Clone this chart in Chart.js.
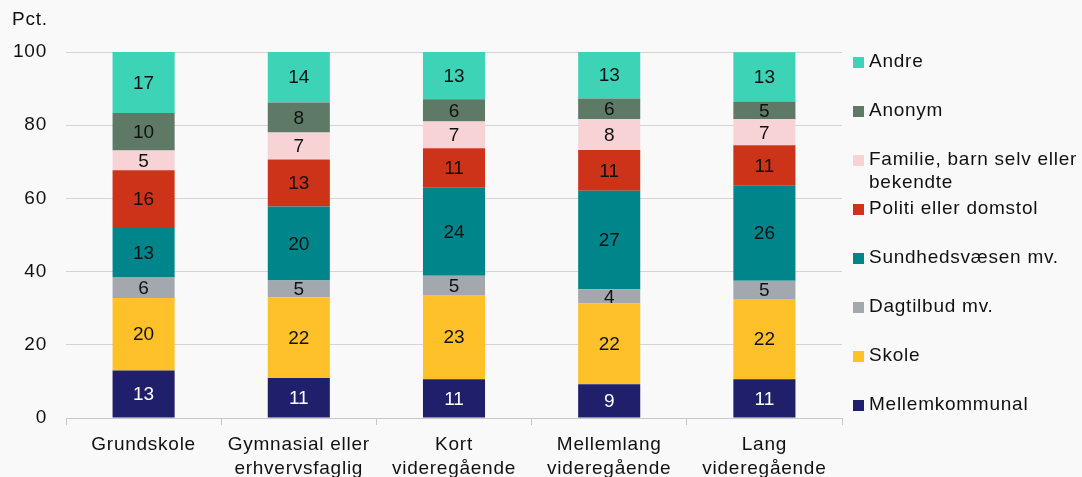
<!DOCTYPE html>
<html>
<head>
<meta charset="utf-8">
<script src="https://cdn.jsdelivr.net/npm/chart.js@4/dist/chart.umd.min.js"></script>
<style>
  html, body { margin: 0; padding: 0; background: #f9f9f9; overflow: hidden; }
  #wrap { width: 1082px; height: 490px; position: relative; }
</style>
</head>
<body>
<div id="wrap"><canvas id="barChart"></canvas></div>
<script>
var categories = [['Grundskole'], ['Gymnasial eller', 'erhvervsfaglig'], ['Kort', 'videregående'], ['Mellemlang', 'videregående'], ['Lang', 'videregående']];
var mellemkommunal = [13.0, 10.9, 10.6, 9.2, 10.6];
var skole = [19.8, 22.1, 23.0, 22.1, 21.9];
var dagtilbud = [5.7, 4.6, 5.3, 3.9, 5.0];
var sundhed = [13.4, 20.2, 24.0, 26.9, 26.1];
var politi = [15.8, 12.8, 10.8, 11.1, 10.9];
var familie = [5.4, 7.4, 7.3, 8.4, 7.1];
var anonym = [10.2, 8.2, 6.1, 5.7, 4.9];
var andre = [16.7, 13.8, 12.9, 12.7, 13.4];
var yTicks = [0, 20, 40, 60, 80, 100];

var FONT = '"Liberation Sans", Arial, sans-serif';
var SIZE = 19;
var SPACING = '0.75px';

var series = [
    { label: 'Mellemkommunal', data: mellemkommunal, color: '#1f1f6b', text: '#ffffff', legend: ['Mellemkommunal'] },
    { label: 'Skole', data: skole, color: '#ffc12a', text: '#111111', legend: ['Skole'] },
    { label: 'Dagtilbud mv.', data: dagtilbud, color: '#a2a8ae', text: '#111111', legend: ['Dagtilbud mv.'] },
    { label: 'Sundhedsvæsen mv.', data: sundhed, color: '#00868a', text: '#111111', legend: ['Sundhedsvæsen mv.'] },
    { label: 'Politi eller domstol', data: politi, color: '#cc3319', text: '#111111', legend: ['Politi eller domstol'] },
    { label: 'Familie, barn selv eller bekendte', data: familie, color: '#f8d3d5', text: '#111111', legend: ['Familie, barn selv eller', 'bekendte'] },
    { label: 'Anonym', data: anonym, color: '#5e7a66', text: '#111111', legend: ['Anonym'] },
    { label: 'Andre', data: andre, color: '#3dd3b7', text: '#111111', legend: ['Andre'] }
];

// slightly wider text like the original
var spacing = {
    id: 'spacing',
    beforeLayout: function(chart) { chart.ctx.letterSpacing = SPACING; },
    beforeDraw: function(chart) { chart.ctx.letterSpacing = SPACING; }
};

// value labels in the middle of each segment
var segmentLabels = {
    id: 'segmentLabels',
    afterDatasetsDraw: function(chart) {
        var ctx = chart.ctx;
        ctx.save();
        ctx.letterSpacing = '0px';
        ctx.font = SIZE + 'px ' + FONT;
        ctx.textAlign = 'center';
        ctx.textBaseline = 'middle';
        chart.data.datasets.forEach(function(ds, i) {
            var meta = chart.getDatasetMeta(i);
            meta.data.forEach(function(bar, j) {
                ctx.fillStyle = series[i].text;
                ctx.fillText(Math.round(ds.data[j]), bar.x, (bar.y + bar.base) / 2 + 1);
            });
        });
        ctx.restore();
    }
};

// legend on the right + "Pct." title
var sideLegend = {
    id: 'sideLegend',
    afterDraw: function(chart) {
        var ctx = chart.ctx;
        var area = chart.chartArea;
        ctx.save();
        ctx.letterSpacing = SPACING;
        ctx.font = SIZE + 'px ' + FONT;
        ctx.textBaseline = 'middle';
        ctx.fillStyle = '#111111';
        ctx.textAlign = 'left';
        ctx.fillText('Pct.', 12, 20);
        var first = area.top + 10, last = area.bottom - 13;
        var step = (last - first) / (series.length - 1);
        for (var k = 0; k < series.length; k++) {
            var s = series[series.length - 1 - k];
            var y = first + k * step;
            ctx.fillStyle = s.color;
            ctx.fillRect(area.right + 11, y - 5, 11, 11);
            ctx.fillStyle = '#111111';
            s.legend.forEach(function(line, n) {
                ctx.fillText(line, area.right + 27, y + n * 23);
            });
        }
        ctx.restore();
    }
};

var ctx = document.getElementById('barChart').getContext('2d');
var barChart = new Chart(ctx, {
    type: 'bar',
    data: {
        labels: categories,
        datasets: series.map(function(s) {
            return {
                label: s.label,
                data: s.data,
                backgroundColor: s.color,
                borderWidth: 0,
                barPercentage: 0.4,
                categoryPercentage: 1
            };
        })
    },
    options: {
        responsive: true,
        maintainAspectRatio: false,
        animation: false,
        layout: { padding: { top: 52, right: 240, left: 0, bottom: 0 } },
        plugins: {
            legend: { display: false },
            tooltip: { enabled: false }
        },
        scales: {
            x: {
                stacked: true,
                offset: true,
                grid: { drawOnChartArea: false, drawTicks: true, tickLength: 7, color: '#c8c8c8', offset: true },
                border: { display: true, color: '#c8c8c8' },
                ticks: { color: '#111111', font: { family: FONT, size: SIZE, lineHeight: 1.3 }, padding: 7, maxRotation: 0, autoSkip: false },
                afterFit: function(scale) { scale.height = 72; }
            },
            y: {
                stacked: true,
                min: 0,
                max: 100,
                afterBuildTicks: function(scale) { scale.ticks = yTicks.map(function(v) { return { value: v }; }); },
                grid: { color: '#d4d4d4', drawTicks: false },
                border: { display: false },
                ticks: { color: '#111111', font: { family: FONT, size: SIZE }, padding: 19 },
                afterFit: function(scale) { scale.width = 66; }
            }
        }
    },
    plugins: [spacing, segmentLabels, sideLegend]
});
</script>
</body>
</html>
